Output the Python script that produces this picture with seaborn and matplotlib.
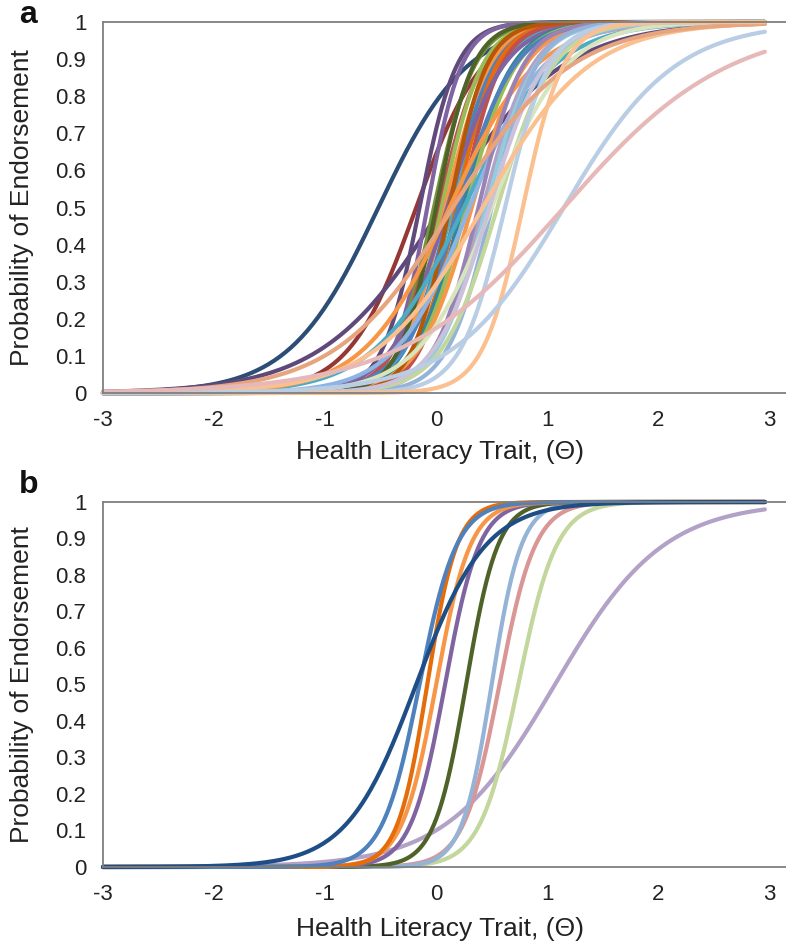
import numpy as np
import pandas as pd
import matplotlib
matplotlib.use("Agg")
import matplotlib.pyplot as plt
import seaborn as sns

# item parameters (slope, location)
items_a_colors = ["#2C4D75", "#953735", "#5F497A", "#604A7B", "#8064A2", "#77933C",
                  "#C0504D", "#9BBB59", "#F79646", "#4F81BD", "#4BACC6", "#E46C0A",
                  "#C0504D", "#8064A2", "#31859C", "#9BBB59", "#F79646", "#4F81BD",
                  "#4F6228", "#B65708", "#4BACC6", "#F79646", "#8EB4E3", "#B3A2C7",
                  "#9983B5", "#93CDDD", "#95B3D7", "#C3D69B", "#D7E4BD", "#CCC1DA",
                  "#B9CDE5", "#FAC090", "#E6A57E", "#FAC090", "#B9CDE5", "#E6B9B8"]
items_a_slope = [2.5, 3.3, 1.85, 6.0, 6.5, 5.5,
                 5.0, 5.5, 5.0, 5.0, 4.5, 5.5,
                 5.5, 4.0, 4.5, 4.5, 4.2, 4.0,
                 6.0, 6.0, 2.5, 2.6, 3.0, 4.5,
                 5.0, 4.5, 5.0, 4.0, 3.0, 4.0,
                 5.0, 2.1, 1.9, 5.5, 2.0, 1.35]
items_a_loc = [-0.52, -0.18, 0.05, -0.15, -0.08, -0.02,
               0.02, 0.05, 0.08, 0.12, 0.15, 0.18,
               0.22, 0.10, 0.24, 0.27, 0.32, 0.20,
               0.0, 0.12, 0.25, 0.12, 0.30, 0.42,
               0.38, 0.45, 0.50, 0.55, 0.50, 0.48,
               0.62, 0.42, 0.15, 0.78, 1.15, 1.15]

items_b_colors = ["#B3A2C7", "#C3D69B", "#D99694", "#95B3D7", "#4F6228",
                  "#8064A2", "#F79646", "#E46C0A", "#4F81BD", "#1F4E86"]
items_b_slope = [2.05, 5.8, 6.2, 7.5, 7.0, 6.5, 6.5, 7.5, 6.0, 3.2]
items_b_loc = [1.07, 0.74, 0.57, 0.50, 0.27, 0.08, 0.0, -0.08, -0.15, -0.18]

theta = np.linspace(-3, 2.96, 241)


def icc_frame(slopes, locs):
    parts = []
    for i, (s, l) in enumerate(zip(slopes, locs)):
        p = 1 / (1 + np.exp(-s * (theta - l)))
        parts.append(pd.DataFrame({"theta": theta, "p": p, "item": f"i{i:02d}"}))
    return pd.concat(parts, ignore_index=True)


sns.set_style("white")
plt.rcParams["font.family"] = ["Liberation Sans", "DejaVu Sans"]

fig = plt.figure(figsize=(7.86, 9.5), dpi=100)
ax_a = fig.add_axes([0.131, 0.5863, 0.869, 0.3905])
ax_b = fig.add_axes([0.131, 0.0874, 0.869, 0.3842])

panels = [(ax_a, items_a_colors, items_a_slope, items_a_loc, "a", -0.127, 0.984),
          (ax_b, items_b_colors, items_b_slope, items_b_loc, "b", -0.137, 0.4895)]

for ax, cols, slopes, locs, tag, xlab_y, tag_y in panels:
    df = icc_frame(slopes, locs)
    order = list(df["item"].unique())
    sns.lineplot(data=df, x="theta", y="p", hue="item", hue_order=order,
                 palette=cols, lw=3, legend=False, ax=ax, sort=False,
                 estimator=None, clip_on=False)
    ax.set_xlim(-3, 3.15)
    ax.set_ylim(0, 1)
    ax.set_xticks(range(-3, 4))
    ax.set_xticklabels([str(v) for v in range(-3, 4)])
    yt = np.round(np.arange(0, 1.01, 0.1), 1)
    ax.set_yticks(yt)
    ax.set_yticklabels(["0"] + [f"{v:.1f}" for v in yt[1:-1]] + ["1"])
    for side in ["left", "bottom", "top"]:
        ax.spines[side].set_color("#7f7f7f")
        ax.spines[side].set_linewidth(1.3)
    ax.spines["right"].set_visible(False)
    ax.tick_params(axis="both", direction="out", length=5, width=1.2,
                   color="#7f7f7f", labelsize=16, labelcolor="#222222", pad=7)
    ax.set_xlabel("Health Literacy Trait, (Θ)", fontsize=19, color="#222222")
    ax.set_ylabel("Probability of Endorsement", fontsize=19, color="#222222")
    ax.xaxis.set_label_coords(0.493, xlab_y)
    ax.yaxis.set_label_coords(-0.101, 0.5)
    fig.text(0.036, tag_y, tag, fontsize=23, fontweight="bold",
             ha="center", va="center", color="#111111")

fig.savefig("out.png", dpi=100)
